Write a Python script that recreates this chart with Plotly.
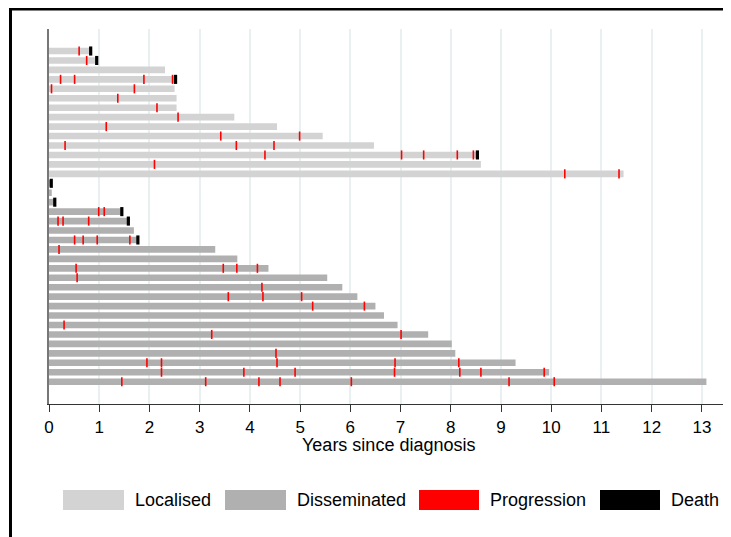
import plotly.graph_objects as go

# ---------------- data (top row first) ----------------
groups = (["Localised"] * 14) + (["Disseminated"] * 22)

end_times = [
    0.83, 0.95, 2.31, 2.52, 2.50, 2.54, 2.54, 3.69, 4.54, 5.45, 6.47, 8.53, 8.60, 11.44,
    0.04, 0.055, 0.10, 1.45, 1.58, 1.69, 1.77, 3.31, 3.75, 4.37, 5.54, 5.84, 6.14, 6.50,
    6.67, 6.94, 7.55, 8.02, 8.09, 9.29, 9.96, 13.09,
]

progression_times = [
    [0.60], [0.75], [], [0.23, 0.51, 1.89, 2.46], [0.05, 1.70], [1.37], [2.15], [2.57],
    [1.14], [3.42, 4.99], [0.32, 3.73, 4.48], [4.30, 7.02, 7.46, 8.13, 8.45], [2.10],
    [10.27, 11.35],
    [], [], [], [0.99, 1.10], [0.18, 0.28, 0.79], [], [0.51, 0.68, 0.96, 1.61], [0.20], [],
    [0.54, 3.47, 3.74, 4.15], [0.56], [4.24], [3.57, 4.26, 5.03], [5.25, 6.28], [], [0.30],
    [3.24, 7.01], [], [4.52], [1.95, 2.24, 4.54, 6.89, 8.16],
    [2.24, 3.88, 4.90, 6.88, 8.18, 8.60, 9.86],
    [1.45, 3.12, 4.18, 4.60, 6.02, 9.16, 10.06],
]

death_times = [
    0.83, 0.95, None, 2.52, None, None, None, None, None, None, None, 8.53, None, None,
    0.045, None, 0.115, 1.45, 1.58, None, 1.77, None, None, None, None, None, None, None,
    None, None, None, None, None, None, None, None,
]

legend_labels = ["Localised", "Disseminated", "Progression", "Death"]
x_ticks = list(range(0, 14))

# ---------------- styling ----------------
colors = {"Localised": "#d3d3d3", "Disseminated": "#b0b0b0",
          "Progression": "#ff0000", "Death": "#000000"}
FONT = "Liberation Sans, Arial, sans-serif"

OFF = 8  # page body margin
W, H = 731 - OFF, 537 - OFF
L, R, T, B = 41, 4, 21, 133
pw, ph = W - L - R, H - T - B


def px_x(p):
    # p: window pixel x
    return (p - OFF - L) / pw


def px_y(p):
    # p: window pixel y
    return (H - B - (p - OFF)) / ph


rows = list(range(len(groups)))
fig = go.Figure()

for g in ["Localised", "Disseminated"]:
    idx = [i for i in rows if groups[i] == g]
    fig.add_trace(go.Bar(
        orientation="h",
        x=[end_times[i] for i in idx],
        y=idx,
        width=0.7,
        marker=dict(color=colors[g], line=dict(width=0)),
        name=g, showlegend=False, hoverinfo="skip",
    ))

px_, py_ = [], []
for i in rows:
    for t in progression_times[i]:
        px_.append(t)
        py_.append(i)
fig.add_trace(go.Scatter(
    x=px_, y=py_, mode="markers",
    marker=dict(symbol="line-ns", size=6.5, line=dict(width=1.6, color=colors["Progression"])),
    showlegend=False, hoverinfo="skip",
))

dx_ = [death_times[i] for i in rows if death_times[i] is not None]
dy_ = [i for i in rows if death_times[i] is not None]
fig.add_trace(go.Scatter(
    x=dx_, y=dy_, mode="markers",
    marker=dict(symbol="line-ns", size=6.5, line=dict(width=3.2, color=colors["Death"])),
    showlegend=False, hoverinfo="skip",
))

shapes = []
annotations = []

# outer black frame
shapes.append(dict(type="rect", xref="paper", yref="paper",
                   x0=px_x(10.5), x1=1.2, y0=px_y(9), y1=-0.6,
                   line=dict(color="black", width=3), fillcolor="rgba(0,0,0,0)",
                   layer="above"))

# custom legend
box_x = [(63, 124), (225, 286), (419, 479), (600, 660)]
text_x = [133, 295, 488, 669]
for lab, (a, b), tx in zip(legend_labels, box_x, text_x):
    shapes.append(dict(type="rect", xref="paper", yref="paper",
                       x0=px_x(a), x1=px_x(b), y0=px_y(510), y1=px_y(490),
                       fillcolor=colors[lab], line=dict(width=0)))
    annotations.append(dict(text=lab, xref="paper", yref="paper",
                            x=px_x(tx), y=px_y(500), xanchor="left", yanchor="middle",
                            showarrow=False, font=dict(family=FONT, size=18, color="black")))

annotations.append(dict(text="Years since diagnosis", xref="paper", yref="paper",
                        x=px_x(388), y=px_y(445), xanchor="center", yanchor="middle",
                        showarrow=False, font=dict(family=FONT, size=18, color="black")))

fig.update_layout(
    width=W, height=H,
    margin=dict(l=L, r=R, t=T, b=B, pad=0),
    paper_bgcolor="white", plot_bgcolor="white",
    barmode="overlay",
    showlegend=False,
    shapes=shapes,
    annotations=annotations,
    xaxis=dict(range=[0, 13.5], tickvals=x_ticks, ticktext=[str(v) for v in x_ticks],
               showgrid=True, gridcolor="#e9f0f2", gridwidth=1.5,
               zeroline=False, showline=True, linecolor="#333333", linewidth=1.3,
               ticks="outside", ticklen=7, tickwidth=1.3, tickcolor="#333333",
               tickfont=dict(family=FONT, size=17, color="black")),
    yaxis=dict(range=[37.36, -2.33], showticklabels=False, showgrid=False,
               zeroline=False, showline=True, linecolor="#777777", linewidth=1.5,
               ticks=""),
)

fig.write_html("out.html")
